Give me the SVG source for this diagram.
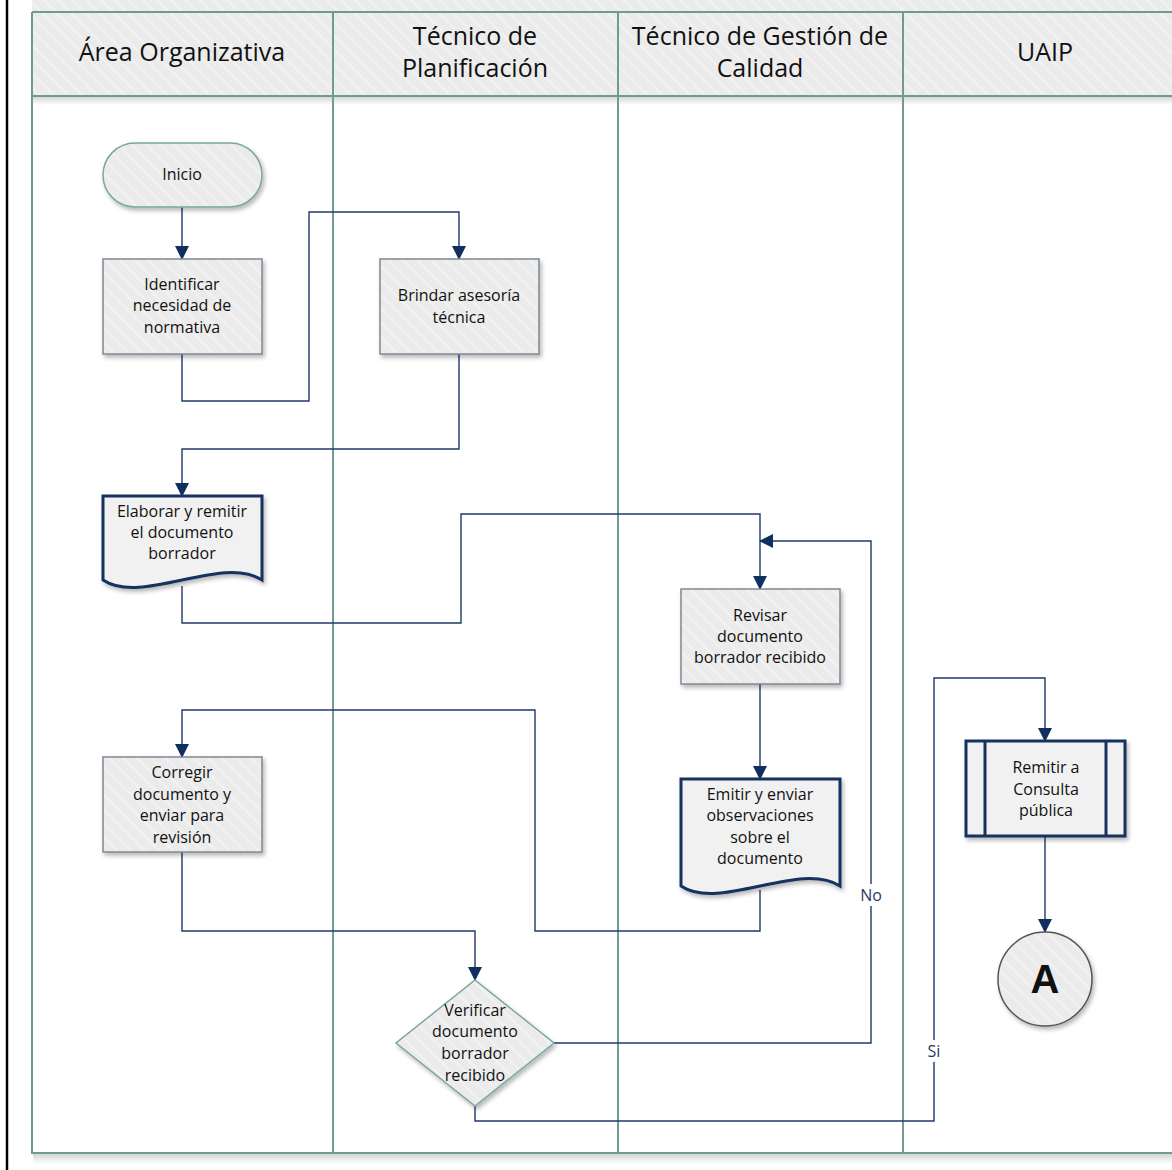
<svg xmlns="http://www.w3.org/2000/svg" width="1172" height="1170" viewBox="0 0 1172 1170">
  <defs>
    <pattern id="hatch" width="10" height="10" patternUnits="userSpaceOnUse" patternTransform="rotate(-45)">
      <rect width="10" height="10" fill="#ebebeb"/>
      <rect width="2" height="10" fill="#f2f2f2"/>
    </pattern>
    <linearGradient id="shgrad" x1="0" y1="0" x2="0" y2="1">
      <stop offset="0" stop-color="#000" stop-opacity="0.16"/>
      <stop offset="1" stop-color="#000" stop-opacity="0"/>
    </linearGradient>
    <filter id="sh" x="-20%" y="-20%" width="150%" height="150%">
      <feDropShadow dx="2" dy="3" stdDeviation="2.2" flood-color="#000" flood-opacity="0.28"/>
    </filter>
    <marker id="arr" markerWidth="14" markerHeight="14" viewBox="0 0 14 14" refX="13" refY="7" orient="auto" markerUnits="userSpaceOnUse">
      <path d="M0,0 L14,7 L0,14 Z" fill="#0f2f5f"/>
    </marker>
  </defs>
  <style>
    .lane { stroke: #6f9c8f; stroke-width: 2; fill: none; }
    .hdr { font-family: "Open Sans", "Noto Sans", sans-serif; font-size: 25px; fill: #111; text-anchor: middle; }
    .t { font-family: "Open Sans", "Noto Sans", sans-serif; font-size: 16px; fill: #111; text-anchor: middle; }
    .lbl { font-family: "Open Sans", "Noto Sans", sans-serif; font-size: 16px; fill: #1f3a68; text-anchor: middle; }
    .box { fill: url(#hatch); stroke: #7d8894; stroke-width: 1.5; filter: url(#sh); }
    .doc { fill: #f1f1f1; stroke: #14325f; stroke-width: 3; filter: url(#sh); }
    .term { fill: url(#hatch); stroke: #7aa89a; stroke-width: 1.5; filter: url(#sh); }
    .conn { fill: none; stroke: #1f3a68; stroke-width: 1.4; }
  </style>

  <rect width="1172" height="1170" fill="#fff"/>
  <line x1="7" y1="0" x2="7" y2="1170" stroke="#000" stroke-width="2.5"/>

  <g id="lanes">
    <rect x="32" y="0" width="1150" height="12" fill="url(#hatch)"/>
    <rect x="32" y="12" width="1150" height="84" fill="url(#hatch)"/>
    <rect x="33" y="97" width="1150" height="8" fill="url(#shgrad)"/>
    <rect x="33" y="1154" width="1150" height="10" fill="url(#shgrad)"/>
    <line x1="32" y1="12" x2="1172" y2="12" class="lane"/>
    <line x1="32" y1="96" x2="1172" y2="96" class="lane"/>
    <line x1="32" y1="1153" x2="1172" y2="1153" class="lane"/>
    <line x1="32" y1="12" x2="32" y2="1154" class="lane"/>
    <line x1="333" y1="12" x2="333" y2="1154" class="lane"/>
    <line x1="618" y1="12" x2="618" y2="1154" class="lane"/>
    <line x1="903" y1="12" x2="903" y2="1154" class="lane"/>
    <text class="hdr" x="182" y="61">Área Organizativa</text>
    <text class="hdr" x="475" y="45">Técnico de</text>
    <text class="hdr" x="475" y="77">Planificación</text>
    <text class="hdr" x="760" y="45">Técnico de Gestión de</text>
    <text class="hdr" x="760" y="77">Calidad</text>
    <text class="hdr" x="1045" y="61">UAIP</text>
  </g>

  <g id="connectors">
    <path class="conn" d="M182,207 V259" marker-end="url(#arr)"/>
    <path class="conn" d="M182,354 V401 H309 V212 H459 V259" marker-end="url(#arr)"/>
    <path class="conn" d="M459,354 V449 H182 V496" marker-end="url(#arr)"/>
    <path class="conn" d="M182,586 V623 H461 V514 H760 V589" marker-end="url(#arr)"/>
    <path class="conn" d="M760,684 V779" marker-end="url(#arr)"/>
    <path class="conn" d="M760,890 V931 H535 V710 H182 V757" marker-end="url(#arr)"/>
    <path class="conn" d="M182,852 V931 H475 V980" marker-end="url(#arr)"/>
    <path class="conn" d="M554,1043 H871 V541 H760" marker-end="url(#arr)"/>
    <path class="conn" d="M475,1106 V1121 H934 V678 H1045 V741" marker-end="url(#arr)"/>
    <path class="conn" d="M1045,836 V932" marker-end="url(#arr)"/>
    <rect x="858" y="884" width="26" height="22" fill="#fff"/>
    <text class="lbl" x="871" y="901">No</text>
    <rect x="925" y="1040" width="18" height="22" fill="#fff"/>
    <text class="lbl" x="934" y="1057">Si</text>
  </g>

  <g id="inicio">
    <rect class="term" x="103" y="143" width="159" height="64" rx="32" ry="32"/>
    <text class="t" x="182" y="180">Inicio</text>
  </g>

  <g id="identificar">
    <rect class="box" x="103" y="259" width="159" height="95"/>
    <text class="t" x="182" y="290">Identificar</text>
    <text class="t" x="182" y="311">necesidad de</text>
    <text class="t" x="182" y="333">normativa</text>
  </g>

  <g id="brindar">
    <rect class="box" x="380" y="259" width="159" height="95"/>
    <text class="t" x="459" y="301">Brindar asesoría</text>
    <text class="t" x="459" y="323">técnica</text>
  </g>

  <g id="elaborar">
    <path class="doc" d="M103,496 H262 V580 C222,554 142,606 103,580 Z"/>
    <text class="t" x="182" y="517">Elaborar y remitir</text>
    <text class="t" x="182" y="538">el documento</text>
    <text class="t" x="182" y="559">borrador</text>
  </g>

  <g id="revisar">
    <rect class="box" x="681" y="589" width="159" height="95"/>
    <text class="t" x="760" y="621">Revisar</text>
    <text class="t" x="760" y="642">documento</text>
    <text class="t" x="760" y="663">borrador recibido</text>
  </g>

  <g id="emitir">
    <path class="doc" d="M681,779 H840 V886 C800,860 720,912 681,886 Z"/>
    <text class="t" x="760" y="800">Emitir y enviar</text>
    <text class="t" x="760" y="821">observaciones</text>
    <text class="t" x="760" y="843">sobre el</text>
    <text class="t" x="760" y="864">documento</text>
  </g>

  <g id="corregir">
    <rect class="box" x="103" y="757" width="159" height="95"/>
    <text class="t" x="182" y="778">Corregir</text>
    <text class="t" x="182" y="800">documento y</text>
    <text class="t" x="182" y="821">enviar para</text>
    <text class="t" x="182" y="843">revisión</text>
  </g>

  <g id="verificar">
    <path d="M475,980 L554,1043 L475,1106 L396,1043 Z" fill="url(#hatch)" stroke="#7aa89a" stroke-width="1.5" filter="url(#sh)"/>
    <text class="t" x="475" y="1016">Verificar</text>
    <text class="t" x="475" y="1037">documento</text>
    <text class="t" x="475" y="1059">borrador</text>
    <text class="t" x="475" y="1081">recibido</text>
  </g>

  <g id="remitir">
    <rect class="doc" x="966" y="741" width="159" height="95"/>
    <line x1="985" y1="741" x2="985" y2="836" stroke="#14325f" stroke-width="3"/>
    <line x1="1106" y1="741" x2="1106" y2="836" stroke="#14325f" stroke-width="3"/>
    <text class="t" x="1046" y="773">Remitir a</text>
    <text class="t" x="1046" y="795">Consulta</text>
    <text class="t" x="1046" y="816">pública</text>
  </g>

  <g id="conector-a">
    <circle cx="1045" cy="979" r="47" fill="url(#hatch)" stroke="#555" stroke-width="1.5" filter="url(#sh)"/>
    <text x="1045" y="993" text-anchor="middle" font-family="'Liberation Sans', Arial, sans-serif" font-weight="bold" font-size="40" fill="#111">A</text>
  </g>
</svg>
